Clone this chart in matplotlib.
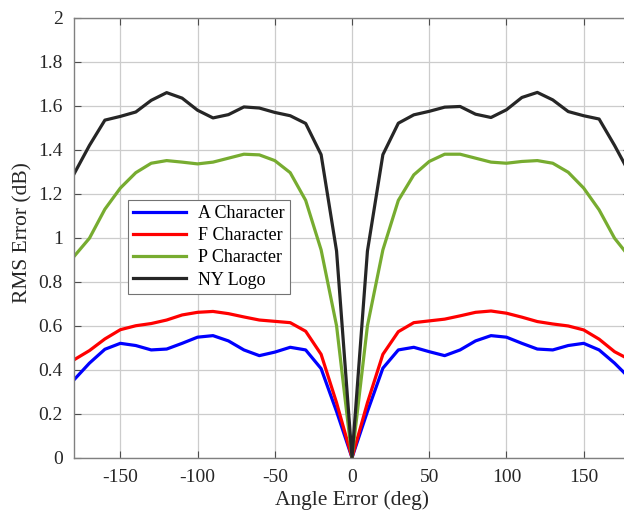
import numpy as np
import matplotlib.pyplot as plt

plt.rcParams['font.family'] = ['Liberation Serif', 'DejaVu Serif']
plt.rcParams['axes.unicode_minus'] = False

angle = list(range(-180, 181, 10))

a_char = [0.354, 0.43, 0.493, 0.52, 0.51, 0.49, 0.494, 0.52, 0.548, 0.555,
          0.531, 0.49, 0.464, 0.48, 0.502, 0.49, 0.405, 0.21, 0.0,
          0.21, 0.407, 0.49, 0.502, 0.482, 0.464, 0.49, 0.531, 0.555, 0.548,
          0.52, 0.494, 0.49, 0.51, 0.52, 0.49, 0.43, 0.36]
f_char = [0.445, 0.487, 0.54, 0.582, 0.60, 0.61, 0.626, 0.649, 0.661, 0.665,
          0.655, 0.64, 0.626, 0.62, 0.614, 0.575, 0.47, 0.25, 0.0,
          0.25, 0.47, 0.573, 0.614, 0.622, 0.63, 0.645, 0.661, 0.667, 0.657,
          0.639, 0.619, 0.608, 0.599, 0.581, 0.539, 0.482, 0.445]
p_char = [0.915, 0.998, 1.13, 1.226, 1.296, 1.339, 1.351, 1.344, 1.336, 1.344,
          1.362, 1.38, 1.377, 1.351, 1.296, 1.17, 0.945, 0.6, 0.0,
          0.6, 0.945, 1.17, 1.286, 1.347, 1.38, 1.38, 1.362, 1.344, 1.339,
          1.347, 1.351, 1.339, 1.298, 1.226, 1.127, 0.998, 0.91]
ny_logo = [1.29, 1.42, 1.535, 1.552, 1.572, 1.625, 1.66, 1.635, 1.58, 1.545,
           1.56, 1.595, 1.59, 1.57, 1.555, 1.52, 1.378, 0.94, 0.0,
           0.94, 1.378, 1.521, 1.559, 1.575, 1.594, 1.597, 1.562, 1.547, 1.582,
           1.638, 1.661, 1.627, 1.574, 1.555, 1.540, 1.42, 1.29]

series = [
    (a_char, 'A Character', (0.0, 0.0, 1.0)),
    (f_char, 'F Character', (1.0, 0.0, 0.0)),
    (p_char, 'P Character', (0.466, 0.674, 0.188)),
    (ny_logo, 'NY Logo', (0.15, 0.15, 0.15)),
]

fig = plt.figure(figsize=(6.24, 5.15), dpi=100)
# axes run slightly past the right edge of the figure
ax = fig.add_axes([0.1186, 0.1113, 0.891, 0.854])

for vals, name, col in series:
    ax.plot(angle, vals, color=col, lw=2.3, label=name)

ax.set_xlim(-180, 180)
ax.set_ylim(0, 2)
ax.set_xticks([-150, -100, -50, 0, 50, 100, 150])
ax.set_yticks(np.arange(0, 2.01, 0.2))
ax.set_yticklabels(['0', '0.2', '0.4', '0.6', '0.8', '1', '1.2', '1.4', '1.6', '1.8', '2'])
ax.grid(True, color=(0.8, 0.8, 0.8), lw=0.9)
ax.set_axisbelow(True)
ax.tick_params(direction='in', length=5, width=0.8, color=(0.3, 0.3, 0.3),
               top=True, right=True, labelsize=14, labelcolor=(0.15, 0.15, 0.15), pad=8)
for s in ax.spines.values():
    s.set_color((0.5, 0.5, 0.5))
    s.set_linewidth(1.0)

ax.set_xlabel('Angle Error (deg)', fontsize=15.5, color=(0.15, 0.15, 0.15), labelpad=3)
ax.set_ylabel('RMS Error (dB)', fontsize=15.5, color=(0.15, 0.15, 0.15))
ax.yaxis.set_label_coords(-0.074, 0.512)

leg = ax.legend(loc='upper left', bbox_to_anchor=(0.097, 0.586), borderaxespad=0,
                fontsize=13, fancybox=False, framealpha=1, edgecolor=(0.45, 0.45, 0.45),
                handlelength=2.9, handletextpad=0.7, labelspacing=0.28, borderpad=0.3)
leg.get_frame().set_linewidth(0.8)

fig.savefig('out.png', dpi=100)
